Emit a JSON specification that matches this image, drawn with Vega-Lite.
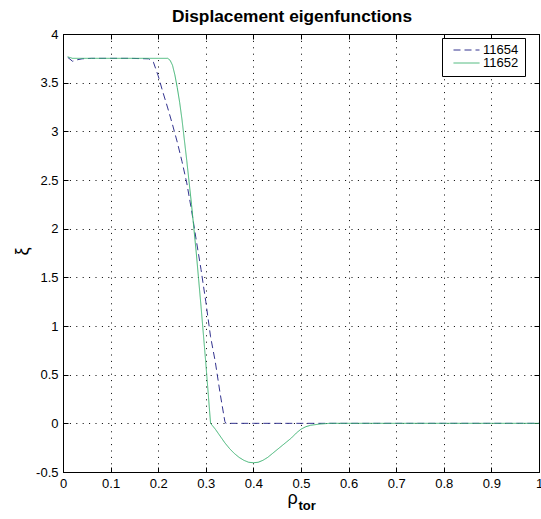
{
  "$schema": "https://vega.github.io/schema/vega-lite/v6.json",
  "width": 476,
  "height": 438,
  "autosize": "none",
  "padding": {"left": 63, "top": 34, "right": 2, "bottom": 47},
  "background": "white",
  "title": {
    "text": "Displacement eigenfunctions",
    "font": "Liberation Sans",
    "fontSize": 17.3,
    "fontWeight": "bold",
    "color": "black",
    "anchor": "middle",
    "frame": "group",
    "baseline": "alphabetic",
    "offset": 11,
    "dy": 22,
    "dx": -9
  },
  "config": {
    "view": {"stroke": "black", "strokeWidth": 1},
    "axis": {
      "labelFont": "Liberation Sans",
      "labelFontSize": 13,
      "labelColor": "black",
      "titleFont": "Liberation Sans",
      "titleColor": "black",
      "titleFontWeight": "normal",
      "domainColor": "black",
      "tickColor": "black",
      "gridColor": "black",
      "gridOpacity": 1,
      "gridDash": [1, 5.4]
    }
  },
  "data": {
    "values": [
      {"series": "11654", "rho": 0.01, "xi": 3.76},
      {"series": "11654", "rho": 0.02, "xi": 3.72},
      {"series": "11654", "rho": 0.03, "xi": 3.735},
      {"series": "11654", "rho": 0.04, "xi": 3.745},
      {"series": "11654", "rho": 0.06, "xi": 3.75},
      {"series": "11654", "rho": 0.10, "xi": 3.75},
      {"series": "11654", "rho": 0.14, "xi": 3.75},
      {"series": "11654", "rho": 0.18, "xi": 3.745},
      {"series": "11654", "rho": 0.19, "xi": 3.71},
      {"series": "11654", "rho": 0.20, "xi": 3.57},
      {"series": "11654", "rho": 0.21, "xi": 3.40},
      {"series": "11654", "rho": 0.22, "xi": 3.24},
      {"series": "11654", "rho": 0.23, "xi": 3.07},
      {"series": "11654", "rho": 0.24, "xi": 2.89},
      {"series": "11654", "rho": 0.25, "xi": 2.69},
      {"series": "11654", "rho": 0.26, "xi": 2.47},
      {"series": "11654", "rho": 0.27, "xi": 2.19},
      {"series": "11654", "rho": 0.28, "xi": 1.88},
      {"series": "11654", "rho": 0.29, "xi": 1.58},
      {"series": "11654", "rho": 0.30, "xi": 1.25},
      {"series": "11654", "rho": 0.31, "xi": 0.89},
      {"series": "11654", "rho": 0.32, "xi": 0.63},
      {"series": "11654", "rho": 0.33, "xi": 0.31},
      {"series": "11654", "rho": 0.34, "xi": 0.02},
      {"series": "11654", "rho": 0.342, "xi": 0},
      {"series": "11654", "rho": 0.40, "xi": 0},
      {"series": "11654", "rho": 0.50, "xi": 0},
      {"series": "11654", "rho": 0.60, "xi": 0},
      {"series": "11654", "rho": 0.70, "xi": 0},
      {"series": "11654", "rho": 0.80, "xi": 0},
      {"series": "11654", "rho": 0.90, "xi": 0},
      {"series": "11654", "rho": 1.00, "xi": 0},
      {"series": "11652", "rho": 0.01, "xi": 3.765},
      {"series": "11652", "rho": 0.02, "xi": 3.75},
      {"series": "11652", "rho": 0.05, "xi": 3.75},
      {"series": "11652", "rho": 0.10, "xi": 3.75},
      {"series": "11652", "rho": 0.15, "xi": 3.75},
      {"series": "11652", "rho": 0.20, "xi": 3.75},
      {"series": "11652", "rho": 0.22, "xi": 3.75},
      {"series": "11652", "rho": 0.225, "xi": 3.73},
      {"series": "11652", "rho": 0.23, "xi": 3.68},
      {"series": "11652", "rho": 0.235, "xi": 3.58},
      {"series": "11652", "rho": 0.24, "xi": 3.45},
      {"series": "11652", "rho": 0.245, "xi": 3.30},
      {"series": "11652", "rho": 0.25, "xi": 3.12},
      {"series": "11652", "rho": 0.26, "xi": 2.70},
      {"series": "11652", "rho": 0.27, "xi": 2.25},
      {"series": "11652", "rho": 0.28, "xi": 1.75},
      {"series": "11652", "rho": 0.29, "xi": 1.20},
      {"series": "11652", "rho": 0.30, "xi": 0.62},
      {"series": "11652", "rho": 0.31, "xi": 0.0},
      {"series": "11652", "rho": 0.32, "xi": -0.06},
      {"series": "11652", "rho": 0.33, "xi": -0.13},
      {"series": "11652", "rho": 0.34, "xi": -0.20},
      {"series": "11652", "rho": 0.35, "xi": -0.26},
      {"series": "11652", "rho": 0.36, "xi": -0.31},
      {"series": "11652", "rho": 0.37, "xi": -0.35},
      {"series": "11652", "rho": 0.38, "xi": -0.38},
      {"series": "11652", "rho": 0.39, "xi": -0.40},
      {"series": "11652", "rho": 0.40, "xi": -0.405},
      {"series": "11652", "rho": 0.41, "xi": -0.40},
      {"series": "11652", "rho": 0.42, "xi": -0.38},
      {"series": "11652", "rho": 0.43, "xi": -0.35},
      {"series": "11652", "rho": 0.44, "xi": -0.31},
      {"series": "11652", "rho": 0.45, "xi": -0.27},
      {"series": "11652", "rho": 0.46, "xi": -0.23},
      {"series": "11652", "rho": 0.47, "xi": -0.19},
      {"series": "11652", "rho": 0.48, "xi": -0.15},
      {"series": "11652", "rho": 0.49, "xi": -0.10},
      {"series": "11652", "rho": 0.50, "xi": -0.06},
      {"series": "11652", "rho": 0.51, "xi": -0.035},
      {"series": "11652", "rho": 0.52, "xi": -0.02},
      {"series": "11652", "rho": 0.54, "xi": -0.007},
      {"series": "11652", "rho": 0.56, "xi": 0},
      {"series": "11652", "rho": 0.60, "xi": 0},
      {"series": "11652", "rho": 0.70, "xi": 0},
      {"series": "11652", "rho": 0.80, "xi": 0},
      {"series": "11652", "rho": 0.90, "xi": 0},
      {"series": "11652", "rho": 1.00, "xi": 0}
    ]
  },
  "layer": [
    {
      "transform": [{"filter": "datum.series === '11654'"}],
      "mark": {"type": "line", "strokeWidth": 1, "strokeCap": "butt"},
      "encoding": {
        "x": {
          "field": "rho", "type": "quantitative",
          "scale": {"domain": [0, 1], "nice": false, "zero": false},
          "axis": {
            "orient": "bottom",
            "values": [0, 0.1, 0.2, 0.3, 0.4, 0.5, 0.6, 0.7, 0.8, 0.9, 1],
            "labelExpr": "'' + datum.value",
            "ticks": false,
            "grid": true,
            "domain": true,
            "labelPadding": 5.5,
            "labelFlush": false,
            "title": "ρ",
            "titleFontSize": 18,
            "titleX": 229,
            "titleY": 31,
            "titleAlign": "center",
            "titleBaseline": "alphabetic"
          }
        },
        "y": {
          "field": "xi", "type": "quantitative",
          "scale": {"domain": [-0.5, 4], "nice": false, "zero": false},
          "axis": {
            "orient": "left",
            "values": [-0.5, 0, 0.5, 1, 1.5, 2, 2.5, 3, 3.5, 4],
            "labelExpr": "'' + datum.value",
            "ticks": false,
            "grid": true,
            "domain": true,
            "labelPadding": 5,
            "labelFlush": false,
            "title": "ξ",
            "titleFontSize": 18,
            "titleAngle": -90,
            "titleX": -40.5,
            "titleY": 217,
            "titleAlign": "center",
            "titleBaseline": "middle"
          }
        },
        "color": {
          "field": "series", "type": "nominal",
          "scale": {"domain": ["11654", "11652"], "range": ["#33338f", "#3cb371"]},
          "legend": {
            "title": null, "orient": "none", "legendX": 379, "legendY": 4,
            "padding": 6, "strokeColor": "black", "fillColor": "white",
            "symbolType": "M-2.6,0H2.6M13.2,0", "symbolSize": 100, "symbolStrokeWidth": 1,
            "symbolOffset": 12, "labelOffset": 10, "clipHeight": 12, "rowPadding": 0,
            "labelFont": "Liberation Sans", "labelFontSize": 13, "labelColor": "black"
          }
        },
        "strokeDash": {
          "field": "series", "type": "nominal",
          "scale": {"domain": ["11654", "11652"], "range": [[7, 4], [1, 0]]},
          "legend": {
            "title": null, "orient": "none", "legendX": 379, "legendY": 4,
            "padding": 6, "strokeColor": "black", "fillColor": "white",
            "symbolType": "M-2.6,0H2.6M13.2,0", "symbolSize": 100, "symbolStrokeWidth": 1,
            "symbolOffset": 12, "labelOffset": 10, "clipHeight": 12, "rowPadding": 0,
            "labelFont": "Liberation Sans", "labelFontSize": 13, "labelColor": "black"
          }
        }
      }
    },
    {
      "transform": [{"filter": "datum.series === '11652'"}],
      "mark": {"type": "line", "strokeWidth": 1, "strokeCap": "butt"},
      "encoding": {
        "x": {
          "field": "rho", "type": "quantitative",
          "scale": {"domain": [0, 1], "nice": false, "zero": false},
          "axis": {
            "orient": "top",
            "values": [0, 0.1, 0.2, 0.3, 0.4, 0.5, 0.6, 0.7, 0.8, 0.9, 1],
            "labels": false, "grid": false, "domain": false,
            "ticks": true, "tickSize": -5, "title": null
          }
        },
        "y": {
          "field": "xi", "type": "quantitative",
          "scale": {"domain": [-0.5, 4], "nice": false, "zero": false},
          "axis": {
            "orient": "right",
            "values": [-0.5, 0, 0.5, 1, 1.5, 2, 2.5, 3, 3.5, 4],
            "labels": false, "grid": false, "domain": false,
            "ticks": true, "tickSize": -5, "title": null
          }
        },
        "color": {"field": "series", "type": "nominal"},
        "strokeDash": {"field": "series", "type": "nominal"}
      }
    },
    {
      "transform": [{"filter": "datum.series === '11652'"}],
      "mark": {"type": "point", "opacity": 0},
      "encoding": {
        "x": {
          "field": "rho", "type": "quantitative",
          "scale": {"domain": [0, 1], "nice": false, "zero": false},
          "axis": {
            "orient": "bottom",
            "values": [0, 0.1, 0.2, 0.3, 0.4, 0.5, 0.6, 0.7, 0.8, 0.9, 1],
            "labels": false, "grid": false, "domain": false,
            "ticks": true, "tickSize": -5,
            "title": "tor",
            "titleFontSize": 13,
            "titleFontWeight": "bold",
            "titleX": 235,
            "titleY": 37,
            "titleAlign": "left",
            "titleBaseline": "alphabetic"
          }
        },
        "y": {
          "field": "xi", "type": "quantitative",
          "scale": {"domain": [-0.5, 4], "nice": false, "zero": false},
          "axis": {
            "orient": "left",
            "values": [-0.5, 0, 0.5, 1, 1.5, 2, 2.5, 3, 3.5, 4],
            "labels": false, "grid": false, "domain": false,
            "ticks": true, "tickSize": -5, "title": null
          }
        }
      }
    }
  ],
  "resolve": {"axis": {"x": "independent", "y": "independent"}}
}
